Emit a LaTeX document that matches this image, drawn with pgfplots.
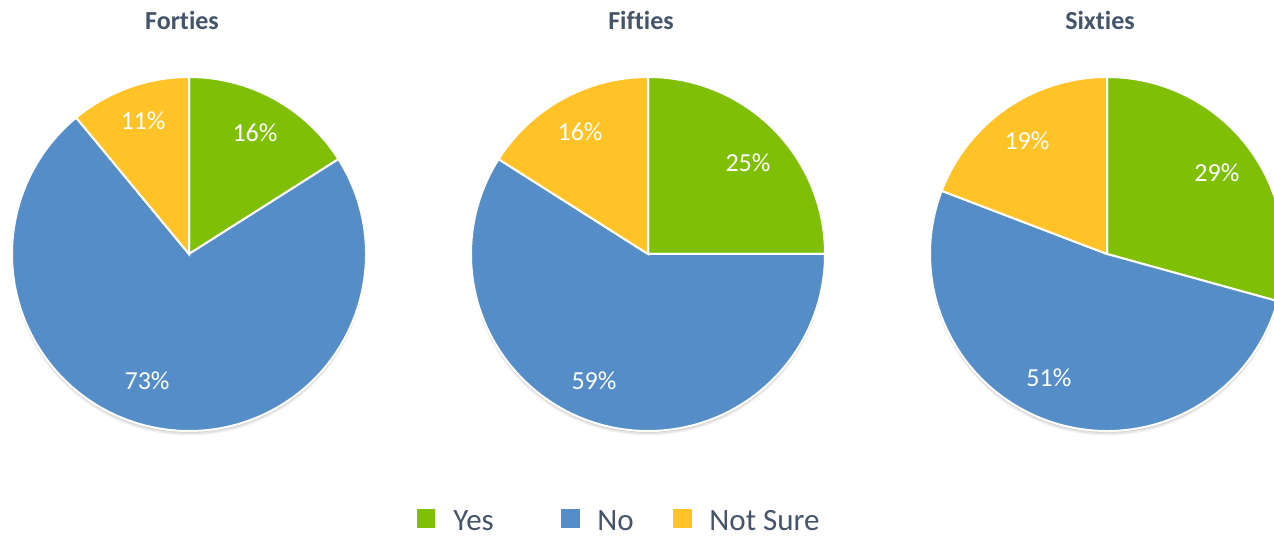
\documentclass[border=0pt]{standalone}
\usepackage{pgfplots}
\pgfplotsset{compat=1.18}
\usepackage{fontspec}
\setmainfont{Carlito}[Ligatures=NoCommon]
\definecolor{cyes}{RGB}{127,191,5}
\definecolor{cno}{RGB}{84,141,199}
\definecolor{cns}{RGB}{255,194,39}
\definecolor{ctxt}{RGB}{68,84,106}

% slice values: Yes, No, Not Sure
\newcommand\slices[3]{%
  \pgfmathsetmacro\tot{#1+#2+#3}%
  \pgfmathsetmacro\aA{#1/\tot*360}%
  \pgfmathsetmacro\aB{(#1+#2)/\tot*360}%
}
\newcommand\drawpie{%
  \foreach \s/\o in {4.5/0.05,3/0.07,1.5/0.09}{%
    \edef\tmp{\noexpand\fill[black,opacity=\o] ([yshift=-\s*0.5pt]axis cs:0,0) circle[radius=88.5pt];}\tmp}
  \fill[cyes,draw=white,line width=1pt] (axis cs:0,0) -- (axis cs:0,1)
     arc[start angle=90,end angle=90-\aA,radius=88.5pt] -- cycle;
  \fill[cno,draw=white,line width=1pt] (axis cs:0,0) -- (axis cs:{sin(\aA)},{cos(\aA)})
     arc[start angle=90-\aA,end angle=90-\aB,radius=88.5pt] -- cycle;
  \fill[cns,draw=white,line width=1pt] (axis cs:0,0) -- (axis cs:{sin(\aB)},{cos(\aB)})
     arc[start angle=90-\aB,end angle=-270,radius=88.5pt] -- cycle;
}
\pgfplotsset{piestyle/.style={hide axis, scale only axis, width=177pt, height=177pt,
  xmin=-1,xmax=1,ymin=-1,ymax=1, clip=false, anchor=center}}
\tikzset{lbl/.style={text=white,font=\fontsize{13}{15}\selectfont},
  ttl/.style={text=ctxt,font=\fontsize{13}{15}\selectfont\bfseries},
  leg/.style={text=ctxt,font=\fontsize{15.5}{18}\selectfont,anchor=base west,inner sep=0pt}}

\begin{document}
\begin{tikzpicture}[x=0.5pt,y=0.5pt]
\useasboundingbox (0,0) rectangle (1274,539);
\clip (0,0) rectangle (1274,539);

\node[ttl] at (182,519) {Forties};
\node[ttl] at (641,519) {Fifties};
\node[ttl] at (1100,519) {Sixties};

\slices{16}{73}{11}
\begin{axis}[piestyle, at={(94.5pt,142.5pt)}]
\drawpie
\node[lbl] at (axis cs:0.373,0.684) {16\%};
\node[lbl] at (axis cs:-0.260,0.751) {11\%};
\node[lbl] at (axis cs:-0.237,-0.718) {73\%};
\end{axis}

\slices{25}{59}{16}
\begin{axis}[piestyle, at={(324pt,142.5pt)}]
\drawpie
\node[lbl] at (axis cs:0.565,0.514) {25\%};
\node[lbl] at (axis cs:-0.384,0.689) {16\%};
\node[lbl] at (axis cs:-0.305,-0.718) {59\%};
\end{axis}

\slices{29}{51}{19}
\begin{axis}[piestyle, at={(553.5pt,142.5pt)}]
\drawpie
\node[lbl] at (axis cs:0.621,0.458) {29\%};
\node[lbl] at (axis cs:-0.452,0.638) {19\%};
\node[lbl] at (axis cs:-0.328,-0.701) {51\%};
\end{axis}

% legend
\fill[cyes] (417,11) rectangle (435,30);
\node[leg] at (453,8) {Yes};
\fill[cno] (561,11) rectangle (580,30);
\node[leg] at (597,8) {No};
\fill[cns] (673,11) rectangle (692,30);
\node[leg] at (709,8) {Not Sure};
\end{tikzpicture}
\end{document}
